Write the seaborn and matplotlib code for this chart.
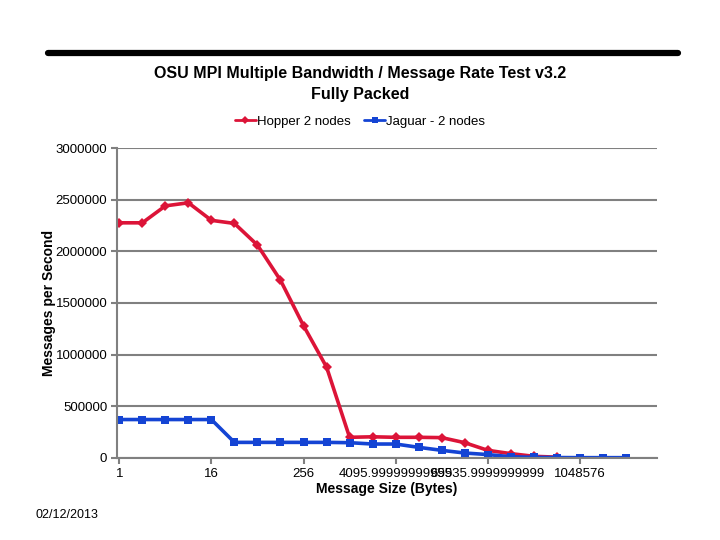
import matplotlib
matplotlib.use("Agg")
import matplotlib.pyplot as plt
import seaborn as sns
import pandas as pd
from matplotlib.lines import Line2D

sizes = [1, 2, 4, 8, 16, 32, 64, 128, 256, 512, 1024, 2048, 4096, 8192, 16384,
         32768, 65536, 131072, 262144, 524288, 1048576, 2097152, 4194304]
hopper = [2276000, 2276000, 2440000, 2470000, 2300000, 2270000, 2060000, 1720000,
          1280000, 880000, 200000, 205000, 200000, 200000, 197000, 148000, 74000,
          42000, 16000, 8000]
jaguar = [372000, 372000, 372000, 372000, 372000, 151000, 151000, 151000, 151000,
          151000, 148000, 135000, 135000, 103000, 74000, 48000, 33000, 12000, 6000,
          4000, 3000, 3000, 3000]
tick_pos = [0, 4, 8, 12, 16, 20]
tick_labels = ["1", "16", "256", "4095.99999999999", "65535.9999999999", "1048576"]
series_names = ["Hopper 2 nodes", "Jaguar - 2 nodes"]
colors = ["#DC1438", "#1444D4"]

rows = []
for i, v in enumerate(hopper):
    rows.append({"pos": i, "val": v, "series": series_names[0]})
for i, v in enumerate(jaguar):
    rows.append({"pos": i, "val": v, "series": series_names[1]})
df = pd.DataFrame(rows)

sns.set_theme(style="white")
plt.rcParams["font.family"] = ["Liberation Sans", "DejaVu Sans"]
plt.rcParams["text.color"] = "black"
plt.rcParams["axes.labelcolor"] = "black"

fig = plt.figure(figsize=(7.2, 5.4), dpi=100)
ax = fig.add_axes([0.1625, 0.1519, 0.75, 0.574])

sns.lineplot(data=df, x="pos", y="val", hue="series", style="series",
             palette=colors, markers=["D", "s"], dashes=False, linewidth=2.6,
             markersize=5.5, markeredgewidth=0, ax=ax, legend=False)

ax.set_xlim(-0.1, 23.35)
ax.set_ylim(0, 3000000)
ax.set_yticks(range(0, 3000001, 500000))
ax.set_yticklabels([str(v) for v in range(0, 3000001, 500000)], fontsize=9.5)
ax.set_xticks(tick_pos)
ax.set_xticklabels(tick_labels, fontsize=9.5)
ax.yaxis.grid(True, color="#808080", linewidth=1.5)
ax.xaxis.grid(False)
for s in ["top", "right"]:
    ax.spines[s].set_visible(False)
for s in ["left", "bottom"]:
    ax.spines[s].set_color("#808080")
    ax.spines[s].set_linewidth(1.5)
ax.tick_params(axis="both", which="both", direction="out", length=4, width=1.5,
               color="#808080", labelcolor="black", left=True, bottom=True, pad=3)
ax.set_xlabel("Message Size (Bytes)", fontsize=10, fontweight="bold", labelpad=2)
ax.set_ylabel("Messages per Second", fontsize=10, fontweight="bold", labelpad=2)
ax.yaxis.set_label_coords(-0.113, 0.5)

fig.text(0.5, 1 - 84 / 540, "OSU MPI Multiple Bandwidth / Message Rate Test v3.2\nFully Packed",
         ha="center", va="center", fontsize=11.5, fontweight="bold", linespacing=1.45)

handles = [Line2D([], [], color=colors[0], marker="D", markersize=4.5, lw=2, markeredgewidth=0),
           Line2D([], [], color=colors[1], marker="s", markersize=4.5, lw=2, markeredgewidth=0)]
fig.legend(handles, series_names, loc="center", bbox_to_anchor=(0.5, 1 - 122 / 540), ncol=2,
           frameon=False, fontsize=9.5, handlelength=1.6, handletextpad=0.1,
           columnspacing=1.0)

fig.add_artist(Line2D([48 / 720, 678 / 720], [1 - 53 / 540, 1 - 53 / 540],
                      color="black", linewidth=4.5, transform=fig.transFigure))
fig.text(35 / 720, 1 - 515 / 540, "02/12/2013", ha="left", va="center", fontsize=9)

fig.savefig("out.png", dpi=100)
